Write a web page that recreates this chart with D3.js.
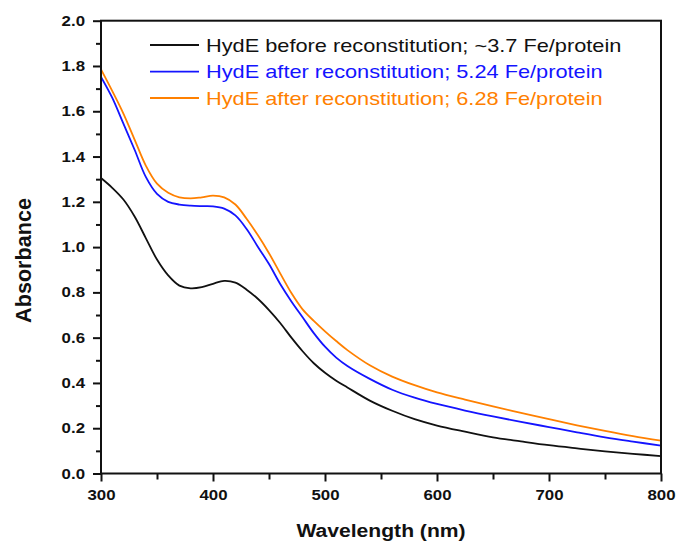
<!DOCTYPE html>
<html>
<head>
<meta charset="utf-8">
<script src="https://cdn.jsdelivr.net/npm/d3@7"></script>
<style>
  body { margin: 0; background: #fff; }
  svg { display: block; font-family: "Liberation Sans", Arial, sans-serif; }
</style>
</head>
<body>
<div id="chart"></div>
<script>
// wavelengths (nm) and absorbance
const wavelength = [300,310,320,330,340,350,360,370,380,390,400,410,420,430,440,450,460,470,480,490,500,510,520,540,560,580,600,625,650,675,700,725,750,775,800];
const before = [1.305,1.262,1.21,1.135,1.04,0.945,0.875,0.83,0.818,0.823,0.838,0.851,0.843,0.812,0.772,0.722,0.665,0.6,0.54,0.487,0.445,0.41,0.38,0.322,0.277,0.24,0.212,0.185,0.16,0.142,0.125,0.111,0.098,0.087,0.077];
const after524 = [1.752,1.66,1.545,1.43,1.31,1.235,1.2,1.188,1.183,1.181,1.18,1.17,1.14,1.08,1.002,0.925,0.837,0.76,0.69,0.62,0.56,0.512,0.475,0.418,0.37,0.335,0.307,0.278,0.252,0.228,0.205,0.182,0.16,0.141,0.123];
const after628 = [1.785,1.69,1.59,1.475,1.36,1.28,1.24,1.22,1.215,1.22,1.227,1.22,1.188,1.125,1.053,0.973,0.884,0.797,0.725,0.674,0.628,0.585,0.545,0.478,0.428,0.39,0.358,0.326,0.296,0.268,0.24,0.213,0.188,0.165,0.145];

const seriesNames = [
  "HydE before reconstitution; ~3.7 Fe/protein",
  "HydE after reconstitution; 5.24 Fe/protein",
  "HydE after reconstitution; 6.28 Fe/protein"
];
const seriesColors = ["#111111", "#1414ff", "#ff8000"];
const xTicks = [300, 400, 500, 600, 700, 800];
const xMinor = [350, 450, 550, 650, 750];
const yTicks = [0, 0.2, 0.4, 0.6, 0.8, 1.0, 1.2, 1.4, 1.6, 1.8, 2.0];
const yMinor = [0.1, 0.3, 0.5, 0.7, 0.9, 1.1, 1.3, 1.5, 1.7, 1.9];

const W = 676, H = 542;
const pLeft = 101, pRight = 661, pTop = 20.7, pBottom = 473.5;
const sx = 1.17; // the source figure is a bit stretched sideways

const svg = d3.select("#chart").append("svg").attr("width", W).attr("height", H);

const x = d3.scaleLinear().domain([300, 800]).range([pLeft, pRight]);
const y = d3.scaleLinear().domain([0, 2]).range([pBottom, pTop]);

svg.append("clipPath").attr("id", "clip")
  .append("rect").attr("x", pLeft).attr("y", pTop).attr("width", pRight - pLeft).attr("height", pBottom - pTop);

// curves
const allSeries = [before, after524, after628];
const line = d3.line()
  .x((d, i) => x(wavelength[i]))
  .y(d => y(d))
  .curve(d3.curveCatmullRom.alpha(0.5));

allSeries.forEach((vals, k) => {
  svg.append("path")
    .datum(vals)
    .attr("clip-path", "url(#clip)")
    .attr("fill", "none")
    .attr("stroke", seriesColors[k])
    .attr("stroke-width", 1.8)
    .attr("d", line);
});

// axes
function styleAxis(g) {
  g.select(".domain").remove();
  g.selectAll("line").attr("stroke", "#111").attr("stroke-width", 2);
}

svg.append("g").attr("transform", `translate(${pLeft},0)`)
  .call(d3.axisLeft(y).tickValues(yMinor).tickSize(5).tickFormat(""))
  .call(styleAxis);
svg.append("g").attr("transform", `translate(${pLeft},0)`)
  .call(d3.axisLeft(y).tickValues(yTicks).tickSize(8).tickPadding(8).tickFormat(d3.format(".1f")))
  .call(styleAxis)
  .call(g => g.selectAll("text")
    .attr("x", -16 / sx)
    .attr("transform", `scale(${sx},1)`)
    .attr("fill", "#111")
    .style("font-size", "14.4px")
    .style("font-weight", "bold"));

svg.append("g").attr("transform", `translate(0,${pBottom})`)
  .call(d3.axisBottom(x).tickValues(xMinor).tickSize(6).tickFormat(""))
  .call(styleAxis);
svg.append("g").attr("transform", `translate(0,${pBottom})`)
  .call(d3.axisBottom(x).tickValues(xTicks).tickSize(8).tickPadding(8.5).tickFormat(d3.format("d")))
  .call(styleAxis)
  .call(g => g.selectAll("text")
    .attr("transform", `scale(${sx},1)`)
    .attr("fill", "#111")
    .style("font-size", "14.4px")
    .style("font-weight", "bold"));

// frame
svg.append("rect")
  .attr("x", pLeft).attr("y", pTop)
  .attr("width", pRight - pLeft).attr("height", pBottom - pTop)
  .attr("fill", "none").attr("stroke", "#111").attr("stroke-width", 2);

// axis titles
svg.append("text")
  .attr("transform", `translate(${(pLeft + pRight) / 2},537) scale(1.135,1)`)
  .attr("text-anchor", "middle")
  .style("font-size", "18.6px").style("font-weight", "bold")
  .attr("fill", "#111")
  .text("Wavelength (nm)");

svg.append("text")
  .attr("transform", "translate(31,260.5) rotate(-90)")
  .attr("text-anchor", "middle")
  .style("font-size", "21.6px").style("font-weight", "bold")
  .attr("fill", "#111")
  .text("Absorbance");

// legend
const legendY = [45, 71.7, 98];
const legend = svg.append("g");
seriesNames.forEach((name, k) => {
  legend.append("line")
    .attr("x1", 150).attr("x2", 199)
    .attr("y1", legendY[k]).attr("y2", legendY[k])
    .attr("stroke", seriesColors[k]).attr("stroke-width", 1.8);
  legend.append("text")
    .attr("transform", `translate(206,${legendY[k]}) scale(${sx},1)`)
    .attr("dy", "0.36em")
    .style("font-size", "18.6px")
    .attr("fill", seriesColors[k])
    .text(name);
});
</script>
</body>
</html>
